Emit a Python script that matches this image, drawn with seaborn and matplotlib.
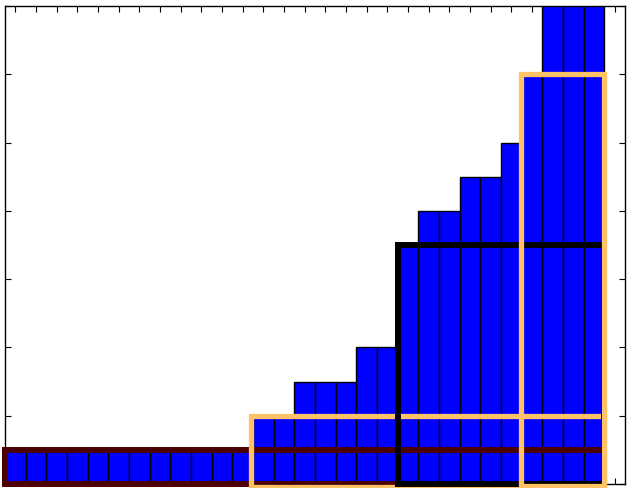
import matplotlib
matplotlib.use("Agg")
import matplotlib.pyplot as plt
import seaborn as sns
from matplotlib.patches import Rectangle

# bar heights, one per slot
bin_index = list(range(29))
bar_heights = [0.5] * 12 + [1.0, 1.0, 1.5, 1.5, 1.5, 2.0, 2.0, 3.5,
                            4.0, 4.0, 4.5, 4.5, 5.0, 6.0, 8.0, 8.0, 8.0]

# outlined boxes drawn over the bars, in slot units
box_left = [-0.5, 11.4, 18.5, 24.45]
box_right = [28.5, 28.5, 28.5, 28.5]
box_bottom = [0.0, -0.05, 0.0, -0.03]
box_top = [0.5, 1.0, 3.5, 6.0]
box_colors = ["#4d0000", "#ffc266", "black", "#ffc266"]
box_widths = [4.3, 3.8, 4.3, 3.8]

sns.set_style("white")
fig = plt.figure(figsize=(6.31, 4.88), dpi=100)
ax = fig.add_axes([5 / 631, 4 / 488, 620 / 631, 478 / 488])

sns.barplot(x=bin_index, y=bar_heights, color="blue", saturation=1,
            width=1.0, edgecolor="black", linewidth=1, ax=ax)

# later boxes sit on top of earlier ones
for k in range(len(box_left)):
    ax.add_patch(Rectangle((box_left[k], box_bottom[k]),
                           box_right[k] - box_left[k],
                           box_top[k] - box_bottom[k],
                           fill=False, edgecolor=box_colors[k],
                           linewidth=box_widths[k], zorder=3 + k,
                           clip_on=False))

ax.set_xlim(-0.5, 29.5)
ax.set_ylim(0, 7)
ax.set_xticks(range(30))
ax.set_yticks(range(8))
ax.set_xticklabels([])
ax.set_yticklabels([])
ax.set_xlabel("")
ax.set_ylabel("")
ax.tick_params(direction="in", length=4, width=0.8, color="black",
               top=True, right=True, bottom=True, left=True)
for s in ax.spines.values():
    s.set_color("black")
    s.set_linewidth(1.0)

fig.savefig("out.png", dpi=100)
